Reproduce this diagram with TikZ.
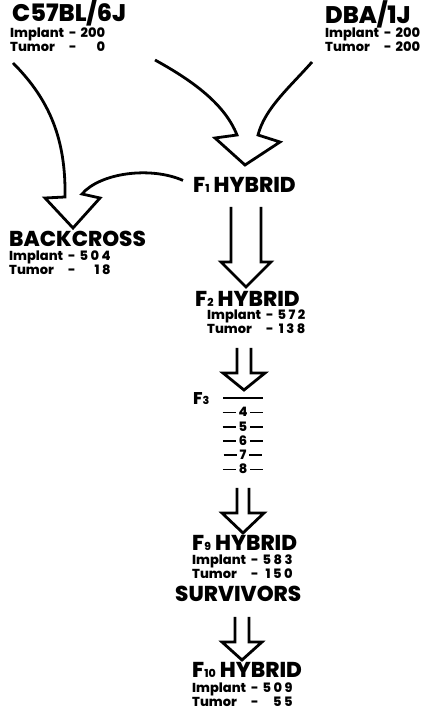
\documentclass[tikz,border=0pt]{standalone}
\usepackage{fontspec}
\setmainfont{Poppins}[BoldFont={Poppins ExtraBold}]
\usetikzlibrary{calc}
\newcommand{\tally}[2]{\begin{tabular}[t]{@{}l@{\hspace{5pt}}c@{\hspace{4pt}}r@{}}Implant & - & #1\\ Tumor & - & #2\end{tabular}}
\newcommand{\gsub}[1]{{\fontsize{11}{11}\selectfont #1}}
\newcommand{\rungrule}{\rule[3.5pt]{13pt}{1.7pt}}
\tikzset{
  strain/.style={font=\bfseries\fontsize{24}{24}\selectfont, inner sep=0pt, anchor=base west},
  gen/.style={font=\bfseries\fontsize{21.5}{21.5}\selectfont, inner sep=0pt, anchor=base west},
  counts/.style={font=\bfseries\fontsize{13}{14}\selectfont, inner sep=0pt, anchor=base west},
  rung/.style={font=\bfseries\fontsize{13}{13}\selectfont, inner sep=0pt},
  hollow/.style={line width=2.8pt, line join=miter},
}
% straight hollow arrow: tip, shaft top, shaft half width, head half width, head height
\newcommand{\hollowdown}[5]{%
  \draw[hollow] ($(#1)+(-#3,#2)$) -- ($(#1)+(-#3,#5)$) -- ($(#1)+(-#4,#5)$) -- (#1)
    -- ($(#1)+(#4,#5)$) -- ($(#1)+(#3,#5)$) -- ($(#1)+(#3,#2)$);}
\begin{document}
\begin{tikzpicture}[x=1pt, y=1pt]
  \useasboundingbox (0,0) rectangle (425,713);

  % Parent strains
  \node[strain] (c57) at (12,691) {C57BL/6J};
  \node[counts] (c57n) at (10,675) {\tally{200}{0}};
  \node[strain] (dba) at (325,689) {DBA/1J};
  \node[counts] (dban) at (325,675) {\tally{200}{200}};

  % Generations
  \node[gen] (f1) at (193,520) {F\gsub{1} HYBRID};
  \node[gen] (bc) at (9,466) {BACKCROSS};
  \node[counts] (bcn) at (9,452) {\tally{5 0 4}{1 8}};
  \node[gen] (f2) at (195,406) {F\gsub{2} HYBRID};
  \node[counts] (f2n) at (207,393) {\tally{5 7 2}{1 3 8}};
  \node[gen, font=\bfseries\fontsize{17}{17}\selectfont] (f3) at (193,308) {F\gsub{3}};
  \draw[line width=1.8pt] (223,315) -- (263,315);
  \foreach \n [count=\i] in {4,...,8}
    \node[rung] (g\n) at (243,315-\i*14.2) {\rungrule\hspace{3pt}\n\hspace{3pt}\rungrule};
  \node[gen] (f9) at (192,162) {F\gsub{9} HYBRID};
  \node[counts] (f9n) at (192,148) {\tally{5 8 3}{1 5 0}};
  \node[gen] (surv) at (175,111) {SURVIVORS};
  \node[gen] (f10) at (192,35) {F\gsub{10} HYBRID};
  \node[counts] (f10n) at (192,20) {\tally{5 0 9}{5 5}};

  % Crosses into F1
  \coordinate (c57out) at (155,653);
  \coordinate (dbaout) at (312,651);
  \coordinate (tipA) at (245,548);
  \draw[hollow] (c57out) .. controls (195,631) and (225,608) .. (237,578)
    -- (215,575) -- (tipA) -- (280,571) -- (258,578)
    .. controls (265,605) and (290,626) .. (dbaout);

  % Backcross
  \coordinate (c57down) at (13,650);
  \coordinate (tipB) at (73,485);
  \draw[hollow] (c57down) .. controls (50,613) and (66,573) .. (65,516)
    -- (45,515) -- (tipB) -- (100,515) -- (82,519)
    .. controls (100,540) and (150,547) .. ($(f1.west)+(-10,5)$);

  % Inbreeding down the line
  \coordinate (tipC) at (246,426);
  \coordinate (tipD) at (244,323);
  \coordinate (tipE) at (243,180);
  \coordinate (tipF) at (242,53);
  \hollowdown{tipC}{80}{15}{25}{25}
  \hollowdown{tipD}{42}{7}{21}{17}
  \hollowdown{tipE}{45}{6}{21}{20}
  \hollowdown{tipF}{43}{7}{20}{18}
\end{tikzpicture}
\end{document}
